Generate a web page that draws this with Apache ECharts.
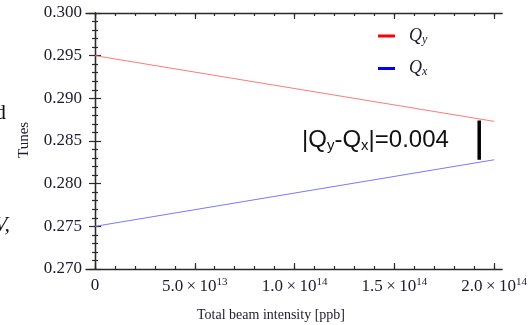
<!DOCTYPE html>
<html>
<head>
<meta charset="utf-8">
<script src="https://cdn.jsdelivr.net/npm/echarts@6/dist/echarts.min.js"></script>
<style>html,body{margin:0;padding:0;background:#fff}#c{width:530px;height:325px}</style>
</head>
<body>
<div id="c"></div>
<script>
// ---- data ----
const intensity = [0, 2.0e14];
const qy = [0.295, 0.2873];
const qx = [0.275, 0.2828];
const gapX = [1.925e14, 1.925e14];
const gapY = [0.2828, 0.2874];
const gapText = '0.004';
const xMajorTicks = [0, 5e13, 1e14, 1.5e14, 2e14];
const xTickMantissa = ['0', '5.0', '1.0', '1.5', '2.0'];
const xTickExponent = ['', '13', '14', '14', '14'];
const xMinorTicks = [0, 1e13, 2e13, 3e13, 4e13, 5e13, 6e13, 7e13, 8e13, 9e13, 1e14,
  1.1e14, 1.2e14, 1.3e14, 1.4e14, 1.5e14, 1.6e14, 1.7e14, 1.8e14, 1.9e14, 2e14];
const yMin = 0.270, yMax = 0.300, yStep = 0.005;
const xMin = -4.5e12, xMax = 2.04e14;

const serif = 'Liberation Serif';
const txt = '#1c1c2c';
const frame = '#2a2a2a';

function xLabel(v) {
  const i = xMajorTicks.findIndex(t => Math.abs(t - v) < 1e11);
  if (i < 0) return '';
  if (!xTickExponent[i]) return xTickMantissa[i];
  return xTickMantissa[i] + '\u2009×\u200910{s|' + xTickExponent[i] + '}';
}

function xAxisDef(pos, major, labels) {
  return {
    type: 'value', position: pos, min: xMin, max: xMax,
    axisLine: { show: major, lineStyle: { color: frame, width: 1.3 } },
    splitLine: { show: false },
    axisTick: { show: true, inside: true, length: major ? 6 : 3,
      customValues: major ? xMajorTicks : xMinorTicks,
      lineStyle: { color: frame, width: 1.2 } },
    axisLabel: labels ? {
      show: true, customValues: xMajorTicks, formatter: xLabel, margin: 8,
      fontFamily: serif, fontSize: 17, color: txt,
      rich: { s: { fontFamily: serif, fontSize: 11, color: txt, verticalAlign: 'bottom', padding: [0, 0, 9, 0] } }
    } : { show: false }
  };
}

function yAxisDef(pos, labels) {
  return {
    type: 'value', position: pos, min: yMin, max: yMax, interval: yStep,
    axisLine: { show: true, lineStyle: { color: frame, width: 1.3 } },
    splitLine: { show: false },
    axisTick: { show: true, inside: true, length: 6, lineStyle: { color: frame, width: 1.2 } },
    minorTick: { show: true, splitNumber: 5, length: 3, lineStyle: { color: frame, width: 1.2 } },
    minorSplitLine: { show: false },
    axisLabel: labels ? { show: true, formatter: v => v.toFixed(3), margin: 4,
      fontFamily: serif, fontSize: 17, color: txt } : { show: false }
  };
}

const chart = echarts.init(document.getElementById('c'), null, { renderer: 'canvas' });
chart.setOption({
  animation: false,
  backgroundColor: '#fff',
  grid: { left: 86, right: 27, top: 13, bottom: 56, containLabel: false },
  xAxis: [xAxisDef('bottom', true, true), xAxisDef('bottom', false, false),
          xAxisDef('top', true, false), xAxisDef('top', false, false)],
  yAxis: [yAxisDef('left', true), yAxisDef('right', false)],
  legend: {
    orient: 'vertical', left: 373, top: 22, itemWidth: 17, itemHeight: 3, itemGap: 14,
    icon: 'rect',
    data: [
      { name: 'Qy', itemStyle: { color: '#ff0000' } },
      { name: 'Qx', itemStyle: { color: '#0000ff' } }
    ],
    formatter: n => '{q|Q}{s|' + n.slice(1) + '}',
    textStyle: { rich: {
      q: { fontFamily: serif, fontStyle: 'italic', fontSize: 18, color: txt, padding: [0, 0, 0, 9] },
      s: { fontFamily: serif, fontStyle: 'italic', fontSize: 12, color: txt, verticalAlign: 'bottom', padding: [7, 0, 0, 0] }
    } }
  },
  series: [
    { name: 'Qy', type: 'line', xAxisIndex: 0, yAxisIndex: 0, symbol: 'none',
      data: intensity.map((x, i) => [x, qy[i]]),
      lineStyle: { color: '#ff7a7a', width: 1 }, itemStyle: { color: '#ff7a7a' } },
    { name: 'Qx', type: 'line', xAxisIndex: 0, yAxisIndex: 0, symbol: 'none',
      data: intensity.map((x, i) => [x, qx[i]]),
      lineStyle: { color: '#7a7aff', width: 1 }, itemStyle: { color: '#7a7aff' } },
    { name: 'gap', type: 'line', xAxisIndex: 0, yAxisIndex: 0, symbol: 'none',
      data: gapX.map((x, i) => [x, gapY[i]]),
      lineStyle: { color: '#000', width: 3.5, cap: 'butt' } }
  ],
  graphic: [
    { type: 'text', left: 302, top: 128, style: {
      text: '{b||}{q|Q}{s|y}{q|-Q}{s|x}{b||}{q|=' + gapText + '}',
      rich: {
        b: { fontFamily: 'Liberation Sans', fontSize: 24, fill: '#111' },
        q: { fontFamily: 'Liberation Sans', fontSize: 24, fill: '#111' },
        s: { fontFamily: 'Liberation Sans', fontSize: 15, fill: '#111', verticalAlign: 'bottom', padding: [11, 0, 0, 0] }
      } } },
    { type: 'text', x: 17, y: 158, rotation: Math.PI / 2, style: {
      text: 'Tunes', fontFamily: serif, fontSize: 15, fill: txt } },
    { type: 'text', x: 271, y: 315, style: {
      text: 'Total beam intensity [ppb]', fontFamily: serif, fontSize: 14, fill: txt,
      align: 'center', verticalAlign: 'middle' } },
    { type: 'text', x: -5, y: 102, style: { text: 'd', fontFamily: serif, fontSize: 22, fill: '#111' } },
    { type: 'text', x: -6, y: 214, style: { text: 'V,', fontFamily: serif, fontStyle: 'italic', fontSize: 22, fill: '#111' } }
  ]
});
</script>
</body>
</html>
